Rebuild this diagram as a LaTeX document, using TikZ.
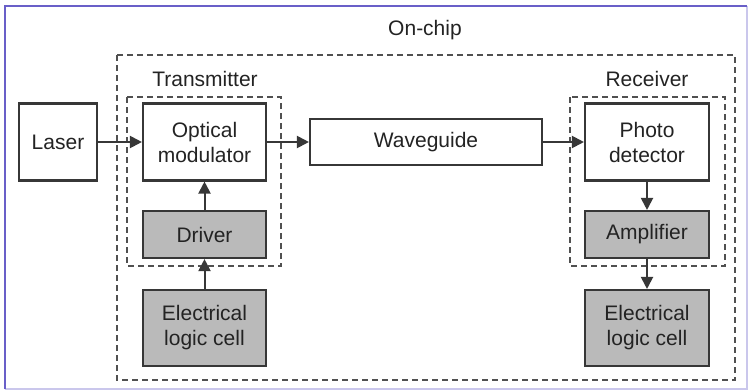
\documentclass[tikz,border=0pt]{standalone}
\usepackage{fontspec}
\setmainfont{Liberation Sans}
\usetikzlibrary{arrows.meta}

\definecolor{linegray}{RGB}{55,55,55}
\definecolor{dashgray}{RGB}{80,80,80}
\definecolor{txtgray}{RGB}{35,35,35}
\definecolor{boxgray}{RGB}{186,186,186}
\definecolor{framepurple}{RGB}{105,95,200}

\begin{document}
\begin{tikzpicture}[
    x=1pt, y=-1pt,
    font=\fontsize{21}{25}\selectfont,
    blk/.style={draw=linegray, line width=2.1pt, fill=white, text=txtgray,
                align=center, inner sep=0pt},
    gblk/.style={blk, fill=boxgray},
    grp/.style={draw=dashgray, line width=1.7pt, dash pattern=on 6pt off 4pt},
    flow/.style={-{Triangle[length=12pt,width=12pt]}, linegray, line width=2pt},
    glbl/.style={text=txtgray},
  ]
  \useasboundingbox (0,0) rectangle (749,391);

  % ---------- outer frame ----------
  \draw[framepurple!35, line width=1.5pt] (5,389) -- (747,389) -- (747,6);
  \draw[framepurple, line width=2.2pt] (5,389) -- (5,6) -- (747,6);

  % ---------- dashed groups ----------
  \draw[grp] (117,55) rectangle (735,380);   % on-chip
  \draw[grp] (127,97) rectangle (281,266);   % transmitter
  \draw[grp] (570,97) rectangle (725,266);   % receiver

  \node[glbl] (onchip) at (425,30) {On-chip};
  \node[glbl] (txlbl) at (205,79) {Transmitter};
  \node[glbl] (rxlbl) at (647,79) {Receiver};

  % ---------- blocks ----------
  \node[blk, minimum width=78pt, minimum height=77pt] (laser) at (58,142) {Laser};
  \node[blk, minimum width=123pt, minimum height=77pt] (optmod) at (204.5,142) {Optical\\modulator};
  \node[blk, minimum width=232pt, minimum height=46pt] (wguide) at (426,142) {Waveguide};
  \node[blk, minimum width=124pt, minimum height=77pt] (photodet) at (647,142) {Photo\\detector};

  \node[gblk, minimum width=123pt, minimum height=47pt] (driver) at (204.5,234.5) {Driver};
  \node[gblk, minimum width=124pt, minimum height=47pt] (amp) at (647,234.5) {Amplifier};

  \node[gblk, minimum width=123pt, minimum height=76pt] (logictx) at (204.5,328) {Electrical\\logic cell};
  \node[gblk, minimum width=124pt, minimum height=76pt] (logicrx) at (647,328) {Electrical\\logic cell};

  % ---------- signal flow ----------
  \draw[flow] (laser) -- (optmod);
  \draw[flow] (optmod) -- (wguide);
  \draw[flow] (wguide) -- (photodet);
  \draw[flow] (logictx) -- (driver);
  \draw[flow] (driver) -- (optmod);
  \draw[flow] (photodet) -- (amp);
  \draw[flow] (amp) -- (logicrx);

\end{tikzpicture}
\end{document}
